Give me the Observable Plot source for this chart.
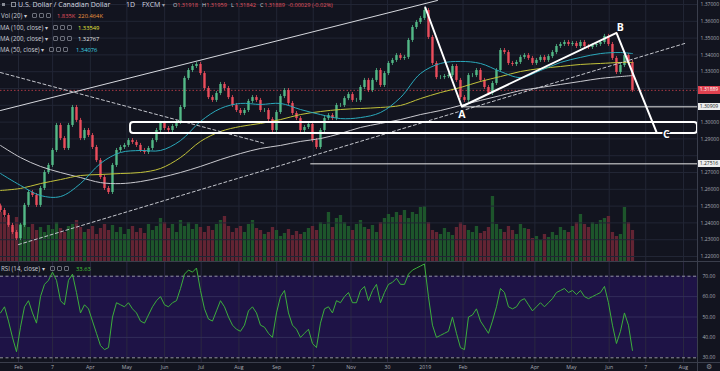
<!DOCTYPE html>
<html><head><meta charset="utf-8">
<script src="https://cdn.jsdelivr.net/npm/d3@7"></script>
<script src="https://cdn.jsdelivr.net/npm/@observablehq/plot@0.6"></script>
<style>
html,body{margin:0;padding:0;background:#12141f;}
#wrap{position:relative;width:720px;height:371px;overflow:hidden;background:#12141f;font-family:"Open Sans",sans-serif;}
#wrap svg{position:absolute;left:0;}
</style></head>
<body><div id="wrap"></div>
<script>
// ---------------- data ----------------
const xStartISO = "2018-01-17T05:17:00Z";
const xEndISO = "2019-08-12T12:00:00Z";
const barStepDays = 3.284;
const firstOpen = 1.2500;
const closes = [
1.2474,1.2444,1.2385,1.2343,1.2307,1.2385,1.2504,1.2581,1.2563,1.2504,
1.2605,1.2700,1.2742,1.2831,1.2980,1.2902,1.2843,1.2980,1.3087,1.3010,
1.2902,1.2950,1.2920,1.2849,1.2771,1.2670,1.2605,1.2581,1.2742,1.2831,
1.2849,1.2861,1.2890,1.2879,1.2861,1.2831,1.2819,1.2843,1.2890,1.2950,
1.2992,1.2962,1.2950,1.2974,1.2998,1.3087,1.3260,1.3307,1.3331,1.3343,
1.3289,1.3200,1.3146,1.3129,1.3170,1.3224,1.3200,1.3146,1.3099,1.3069,
1.3051,1.3069,1.3123,1.3146,1.3129,1.3069,1.3069,1.3015,1.2950,1.3057,
1.3152,1.3188,1.3111,1.3051,1.3021,1.2950,1.2968,1.2986,1.2890,1.2849,
1.2950,1.3021,1.3039,1.3021,1.3099,1.3099,1.3140,1.3164,1.3129,1.3129,
1.3206,1.3248,1.3188,1.3248,1.3307,1.3218,1.3289,1.3349,1.3367,1.3396,
1.3379,1.3385,1.3486,1.3563,1.3593,1.3617,1.3664,1.3504,1.3349,1.3265,
1.3265,1.3271,1.3277,1.3331,1.3248,1.3146,1.3129,1.3277,1.3277,1.3307,
1.3248,1.3206,1.3170,1.3230,1.3307,1.3426,1.3414,1.3349,1.3343,1.3355,
1.3385,1.3396,1.3379,1.3349,1.3367,1.3385,1.3367,1.3390,1.3414,1.3450,
1.3462,1.3474,1.3462,1.3468,1.3450,1.3474,1.3450,1.3444,1.3456,1.3462,
1.3474,1.3510,1.3462,1.3379,1.3295,1.3337,1.3396,1.3355,1.3189];
const volumesK = [
200,180,160,140,180,152,160,140,152,128,
140,120,148,132,160,136,120,144,152,168,
140,120,132,144,112,136,152,128,148,120,
140,112,132,144,120,136,116,152,128,144,
176,160,136,152,120,168,144,160,132,152,
140,120,144,128,152,168,184,144,120,136,
144,120,152,168,136,128,112,120,140,128,
104,116,132,108,124,112,120,136,144,128,
160,152,200,140,176,188,160,144,128,152,
168,140,132,148,120,160,176,192,180,200,
188,208,176,200,192,220,224,160,128,120,
112,136,120,108,140,160,148,128,120,144,
116,124,140,264,152,132,120,144,128,112,
152,136,132,96,104,88,112,100,120,108,
140,128,120,144,160,192,152,140,160,152,
168,176,184,120,104,112,220,160,128];
const rsi14 = [
52,55,48,40,33,45,55,58,52,47,
60,66,68,72,68,58,56,68,71,62,
52,56,54,48,42,36,34,35,50,57,
56,55,57,54,52,48,47,51,55,58,
60,56,55,57,58,64,71,73,72,74,
63,54,49,48,53,58,55,50,46,44,
43,46,53,55,52,46,45,42,40,52,
60,63,52,46,44,40,42,44,37,35,
47,54,55,52,58,57,60,62,57,57,
63,65,58,63,66,57,62,66,67,69,
66,66,71,73,74,75,76,60,46,40,
41,42,43,50,42,35,34,50,51,54,
48,45,42,48,55,64,62,55,54,55,
58,59,56,53,55,57,55,57,59,62,
63,64,62,63,61,63,60,59,60,61,
62,65,57,46,37,43,52,46,33.63];
// moving averages sampled every 5 bars (last sample = last bar)
const maSampleEvery = 5;
const ma50 = [1.2694,1.2623,1.2563,1.2557,1.2634,1.2754,1.2819,1.2831,1.2831,1.2890,
1.3004,1.3081,1.3111,1.3105,1.3111,1.3075,1.3045,1.3021,1.3027,1.3057,
1.3146,1.3289,1.3349,1.3361,1.3349,1.3301,1.3265,1.3307,1.3355,1.3385,
1.3408,1.3414,1.3408];
const ma100 = [1.2593,1.2605,1.2634,1.2658,1.2682,1.2688,1.2694,1.2700,1.2724,1.2789,
1.2885,1.2944,1.2974,1.2992,1.3015,1.3045,1.3063,1.3075,1.3081,1.3087,
1.3099,1.3140,1.3176,1.3206,1.3242,1.3271,1.3301,1.3319,1.3331,1.3343,
1.3349,1.3355,1.3355];
const ma200 = [1.2861,1.2789,1.2736,1.2700,1.2670,1.2640,1.2634,1.2646,1.2670,1.2700,
1.2736,1.2777,1.2813,1.2843,1.2861,1.2885,1.2902,1.2932,1.2968,1.2992,
1.3015,1.3045,1.3069,1.3099,1.3129,1.3158,1.3188,1.3206,1.3224,1.3242,
1.3260,1.3271,1.3277];
const timeTickDates = ["2018-02-01","2018-03-01","2018-04-01","2018-05-01","2018-06-01","2018-07-01","2018-08-01","2018-09-01","2018-10-01","2018-11-01","2018-12-01","2019-01-01","2019-02-01","2019-04-01","2019-05-01","2019-06-01","2019-07-01","2019-08-01"];
const timeTickLabels = ["Feb","7","Apr","May","Jun","Jul","Aug","Sep","7","Nov","30","2019","Feb","Apr","May","Jun","7","Aug"];
const priceGrid = [1.22,1.23,1.24,1.25,1.26,1.27,1.28,1.29,1.30,1.31,1.32,1.33,1.34,1.35,1.36,1.37];
const priceAxisLabels = [1.22,1.23,1.24,1.25,1.26,1.27,1.29,1.30,1.33,1.34,1.35,1.36,1.37];
const rsiTicks = [30,40,50,60,70];
const rsiBand = [30,70];
const rsiGrid = [40,50,60];
const lastPrice = 1.31889;
const levelA = 1.30909;
const levelLow = 1.27516;
// drawings: [date, price]
const upperChannel = [["2018-01-17T05:17:00Z",1.3069],["2019-01-11",1.3724]];
const fallingDashed = [["2018-01-17T05:17:00Z",1.3295],["2018-08-22",1.2873]];
const lowerChannel = [["2018-02-01",1.2271],["2019-08-02",1.3468]];
const abcPath = [["2019-01-01",1.3682],["2019-01-31",1.3093],["2019-06-07",1.3531],["2019-07-10",1.2938]];
const abcLabels = [["A","2019-01-31",1.3045],["B","2019-06-10",1.3560],["C","2019-07-18",1.2926]];
const zoneBox = [{from:"2018-05-04", lo:1.2932, hi:1.2998}];
const hLines = [{from:"2019-01-31", y:levelA},{from:"2018-09-29", y:levelLow}];

// ---------------- build ----------------
const xStart = new Date(xStartISO), xEnd = new Date(xEndISO);
const barDate = i => new Date(xStart.getTime() + i * barStepDays * 864e5);
const wick = 0.0012;
const bars = closes.map((c, i) => {
  const o = i ? closes[i - 1] : firstOpen;
  return {date: barDate(i), o, c, hi: Math.max(o, c) + wick, lo: Math.min(o, c) - wick, v: volumesK[i], rsi: rsi14[i], up: c >= o};
});
const lastIdx = closes.length - 1;
const maRows = (arr) => arr.map((v, k) => ({date: barDate(Math.min(k * maSampleEvery, lastIdx)), v}));
const ticks = timeTickDates.map((d, i) => ({date: new Date(d), label: timeTickLabels[i]}));
const P = d => ({date: new Date(d[0]), p: d[1]});

const UP = "#53b987", DOWN = "#eb4d5c", GRID = "#222635", AXT = "#a9acb5";
const FONT = "'Open Sans', sans-serif";
const common = {width: 720, marginLeft: 0, marginRight: 23, marginTop: 0,
  style: {background: "transparent", fontFamily: FONT, overflow: "visible"}};
const xOpt = {type: "utc", domain: [xStart, xEnd], axis: null};

const wrap = document.getElementById("wrap");

// volume + vertical grid layer
const plotV = Plot.plot({...common, height: 262, marginBottom: 0,
  x: xOpt, y: {domain: [0, 1048], axis: null}, color: {type: "identity"},
  marks: [
    Plot.ruleX(ticks, {x: "date", stroke: GRID, strokeWidth: 1}),
    Plot.ruleX(bars, {x: "date", y1: 0, y2: "v", stroke: d => d.up ? "#1d552b" : "#622433", strokeWidth: 3.3})
  ]});
plotV.style.top = "0px";
wrap.appendChild(plotV);

// price layer
const plotP = Plot.plot({...common, height: 262, marginBottom: 0,
  x: xOpt, y: {domain: [1.21643, 1.37238], axis: null}, color: {type: "identity"},
  marks: [
    Plot.ruleY(priceGrid, {stroke: GRID, strokeWidth: 1}),
    Plot.ruleY([lastPrice], {stroke: "#d2404e", strokeWidth: 0.8, strokeDasharray: "1.5,2"}),
    Plot.ruleX(bars, {x: "date", y1: "lo", y2: "hi", stroke: d => d.up ? UP : DOWN, strokeWidth: 0.8}),
    Plot.ruleX(bars, {x: "date", y1: "o", y2: "c", stroke: d => d.up ? UP : DOWN, strokeWidth: 2.4}),
    Plot.line(maRows(ma200), {x: "date", y: "v", stroke: "#c9c9cf", strokeWidth: 1, curve: "catmull-rom"}),
    Plot.line(maRows(ma100), {x: "date", y: "v", stroke: "#c2c23a", strokeWidth: 1, curve: "catmull-rom"}),
    Plot.line(maRows(ma50), {x: "date", y: "v", stroke: "#2aa9bb", strokeWidth: 1, curve: "catmull-rom"}),
    Plot.line(upperChannel.map(P), {x: "date", y: "p", stroke: "#d6d8de", strokeWidth: 1}),
    Plot.line(fallingDashed.map(P), {x: "date", y: "p", stroke: "#c4c6cd", strokeWidth: 1, strokeDasharray: "3,2.5"}),
    Plot.line(lowerChannel.map(P), {x: "date", y: "p", stroke: "#c4c6cd", strokeWidth: 1, strokeDasharray: "3,2.5"}),
    Plot.ruleY(hLines, {y: "y", x1: d => new Date(d.from), x2: () => xEnd, stroke: "#e6e6e6", strokeWidth: 1}),
    Plot.rect(zoneBox, {x1: d => new Date(d.from), x2: () => xEnd, y1: "lo", y2: "hi", fill: "none", stroke: "#ffffff", strokeWidth: 2, rx: 3}),
    Plot.line(abcPath.map(P), {x: "date", y: "p", stroke: "#ffffff", strokeWidth: 2}),
    Plot.text(abcLabels, {x: d => new Date(d[1]), y: d => d[2], text: d => d[0], fill: "#ffffff", stroke: "#12141f", strokeWidth: 2.5, fontSize: 10.5, fontWeight: "bold", lineAnchor: "middle"}),
    Plot.text(priceAxisLabels, {y: d => d, text: d => d.toFixed(5), frameAnchor: "right", dx: 21.5, textAnchor: "end", fill: AXT, fontSize: 5})
  ]});
plotP.style.top = "0px";
wrap.appendChild(plotP);

// RSI layer with time axis
const plotR = Plot.plot({...common, height: 109, marginBottom: 9,
  x: xOpt, y: {domain: [27.70, 76.72], axis: null}, color: {type: "identity"},
  marks: [
    Plot.rect([rsiBand], {x1: () => xStart, x2: () => xEnd, y1: d => d[0], y2: d => d[1], fill: "#1e1346"}),
    Plot.ruleX(ticks, {x: "date", y1: () => 27.70, y2: () => 76.72, stroke: "#2a2840", strokeWidth: 1}),
    Plot.ruleY(rsiGrid, {stroke: "#322c5a", strokeWidth: 1}),
    Plot.ruleY(rsiBand, {stroke: "#b0b2ba", strokeWidth: 0.8, strokeDasharray: "3,2.5"}),
    Plot.line(bars, {x: "date", y: "rsi", stroke: "#3cae3c", strokeWidth: 1}),
    Plot.text(rsiTicks, {y: d => d, text: d => d.toFixed(2), frameAnchor: "right", dx: 5, textAnchor: "start", fill: AXT, fontSize: 5}),
    Plot.text(ticks, {x: "date", text: "label", frameAnchor: "bottom", dy: 4.5, lineAnchor: "middle", fill: AXT, fontSize: 5.2})
  ]});
plotR.style.top = "262px";
wrap.appendChild(plotR);

// ---------------- overlays (frame lines, legend, price tags) ----------------
function box(x, y, w, h, bg, extra) {
  const d = document.createElement("div");
  Object.assign(d.style, {position: "absolute", left: x + "px", top: y + "px", width: w + "px", height: h + "px", background: bg}, extra || {});
  wrap.appendChild(d); return d;
}
box(0, 261, 720, 1, "#3a3e4c");
box(0, 362, 720, 1, "#3a3e4c");
box(697, 0, 1, 371, "#3a3e4c");

function label(text, x, yc, size, color, weight) {
  const d = document.createElement("div");
  d.textContent = text;
  Object.assign(d.style, {position: "absolute", left: x + "px", top: (yc - 5) + "px", height: "10px", lineHeight: "10px",
    fontSize: size + "px", color: color, fontWeight: weight || "normal", whiteSpace: "nowrap", fontFamily: FONT});
  wrap.appendChild(d); return d;
}
function icons(x, yc) {
  for (let k = 0; k < 3; k++) box(x + k * 7, yc - 3, 5, 5, "transparent", {border: "0.8px solid #6c6f7a", borderRadius: "1px", boxSizing: "border-box"});
}
const LG = "#c9ccd4";
box(2, 3, 3, 3, "#8a8d96");
box(11, 2, 5, 5, "transparent", {border: "0.8px solid #8a8d96", boxSizing: "border-box"});
label("U.S. Dollar / Canadian Dollar", 18, 5, 7, "#d6d9e0");
label("1D", 126, 5, 7, "#d6d9e0");
label("FXCM", 142, 5, 7, "#d6d9e0");
label("▾", 162, 5, 5.5, "#9a9da6");
[["O", "1.31918", 173], ["H", "1.31959", 202], ["L", "1.31842", 231], ["C", "1.31889", 260]].forEach(([k, v, x]) => {
  label(k, x, 5, 5.6, "#c9ccd4");
  label(v, x + 4.2, 5, 5.6, "#e2535f");
});
label("-0.00029 (-0.02%)", 288, 5, 5.6, "#e2535f");

label("Vol (20) ▾", 1, 16, 6.2, LG); icons(32, 16);
label("1.835K", 57, 16, 5.8, "#e2535f"); label("220.464K", 78, 16, 5.8, "#f0953f");
label("MA (100, close) ▾", 0, 27.5, 6.2, LG); icons(53, 27.5);
label("1.33549", 78, 27.5, 5.8, "#e4e43a");
label("MA (200, close) ▾", 0, 39, 6.2, LG); icons(53, 39);
label("1.32767", 78, 39, 5.8, "#e8e8e8");
label("MA (50, close) ▾", 0, 50, 6.2, LG); icons(49, 50);
label("1.34076", 76, 50, 5.8, "#3fd4e4");
label("RSI (14, close) ▾", 1, 269, 6.2, LG); icons(50, 269);
label("33.63", 76, 269, 5.8, "#47c93a");
label("⚙", 706, 367, 6.5, "#8a8d96");

// price tags on the right axis, placed with the plot's own y scale
const ys = plotP.scale("y");
const yApply = ys && ys.apply ? (v => ys.apply(v)) : d3.scaleLinear(ys.domain, ys.range);
[[lastPrice, "#e0414f", "#ffffff"], [levelA, "#eeeeee", "#131722"], [levelLow, "#eeeeee", "#131722"]].forEach(([p, bg, fg]) => {
  const yc = yApply(p);
  const d = box(698, yc - 3.8, 22, 7.6, bg, {color: fg, fontSize: "5px", lineHeight: "7.6px", textAlign: "center", fontFamily: FONT, overflow: "hidden"});
  d.textContent = p.toFixed(5);
});
</script>
</body></html>
